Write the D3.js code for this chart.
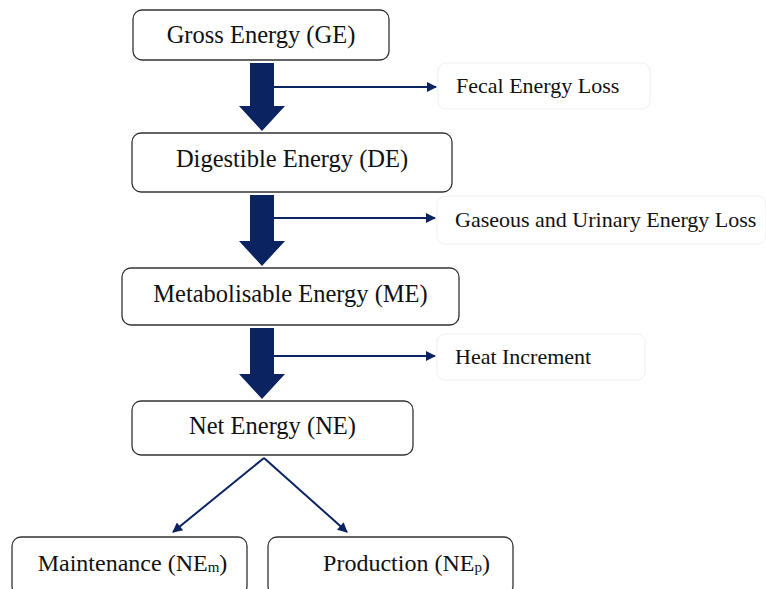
<!DOCTYPE html>
<html>
<head>
<meta charset="utf-8">
<script src="https://cdn.jsdelivr.net/npm/d3@7"></script>
<style>
  body { margin: 0; background: #fff; }
  text { font-family: "Liberation Serif", "Times New Roman", serif; fill: #111; }
</style>
</head>
<body>
<svg id="chart" width="766" height="589"></svg>
<script>
// labels of the flow
const stages = ['Gross Energy (GE)', 'Digestible Energy (DE)', 'Metabolisable Energy (ME)', 'Net Energy (NE)'];
const losses = ['Fecal Energy Loss', 'Gaseous and Urinary Energy Loss', 'Heat Increment'];
const outputs = [['Maintenance (NE', 'm', ')'], ['Production (NE', 'p', ')']];

const navy = '#0b2461';
const svg = d3.select('#chart');

// box layout (x0, x1, y0, y1)
const stageBoxes = [[133, 389, 10, 60], [132, 452, 133, 192], [122, 459, 268, 325], [132, 413, 401, 455]];
const lossBoxes = [[438, 650, 63, 109], [437, 766, 196, 244], [437, 645, 334, 380]];
const outBoxes = [[12, 247, 537, 595], [268, 513, 537, 595]];
const baselineShift = [8, 4, 5, 6];
const outTextShift = [3, 16];

const defs = svg.append('defs');
defs.append('marker').attr('id', 'head')
  .attr('viewBox', '0 0 10 10').attr('refX', 9).attr('refY', 5)
  .attr('markerWidth', 6).attr('markerHeight', 5).attr('orient', 'auto')
  .attr('markerUnits', 'strokeWidth')
  .append('path').attr('d', 'M0,0 L10,5 L0,10 z').attr('fill', navy);

// stage boxes
svg.selectAll('.stage').data(stages).enter().append('g').attr('class', 'stage')
  .each(function (d, i) {
    const b = stageBoxes[i], g = d3.select(this);
    g.append('rect').attr('x', b[0]).attr('y', b[2]).attr('width', b[1] - b[0]).attr('height', b[3] - b[2])
      .attr('rx', 9).attr('fill', '#fff').attr('stroke', '#333').attr('stroke-width', 1.3);
    g.append('text').attr('x', (b[0] + b[1]) / 2).attr('y', (b[2] + b[3]) / 2 + baselineShift[i])
      .attr('text-anchor', 'middle').attr('font-size', 24.5).text(d);
  });

// loss boxes
svg.selectAll('.loss').data(losses).enter().append('g').attr('class', 'loss')
  .each(function (d, i) {
    const b = lossBoxes[i], g = d3.select(this);
    g.append('rect').attr('x', b[0]).attr('y', b[2]).attr('width', b[1] - b[0]).attr('height', b[3] - b[2])
      .attr('rx', 8).attr('fill', '#fff').attr('stroke', '#f0f0f0').attr('stroke-width', 1);
    g.append('text').attr('x', b[0] + 18).attr('y', (b[2] + b[3]) / 2 + 7)
      .attr('font-size', 22).text(d);
  });

// output boxes
svg.selectAll('.out').data(outputs).enter().append('g').attr('class', 'out')
  .each(function (d, i) {
    const b = outBoxes[i], g = d3.select(this);
    g.append('rect').attr('x', b[0]).attr('y', b[2]).attr('width', b[1] - b[0]).attr('height', b[3] - b[2])
      .attr('rx', 9).attr('fill', '#fff').attr('stroke', '#333').attr('stroke-width', 1.3);
    const t = g.append('text').attr('x', (b[0] + b[1]) / 2 + outTextShift[i]).attr('y', 571)
      .attr('text-anchor', 'middle').attr('font-size', 24);
    t.append('tspan').text(d[0]);
    t.append('tspan').attr('font-size', 15).attr('dy', 1).text(d[1]);
    t.append('tspan').attr('dy', -1).text(d[2]);
  });

// thick down arrows between stages, with the thin loss arrow out of each
const cx = 262;
const lossY = [87, 218, 356];
losses.forEach((l, i) => {
  const top = stageBoxes[i][3] + 3, tip = stageBoxes[i + 1][2] - 2;
  const neck = tip - 25;
  svg.append('path')
    .attr('d', `M${cx - 12},${top} L${cx + 12},${top} L${cx + 12},${neck} L${cx + 23},${neck} L${cx},${tip} L${cx - 23},${neck} L${cx - 12},${neck} Z`)
    .attr('fill', navy);
  svg.append('line').attr('x1', cx + 12).attr('x2', lossBoxes[i][0] - 2)
    .attr('y1', lossY[i]).attr('y2', lossY[i])
    .attr('stroke', navy).attr('stroke-width', 2).attr('marker-end', 'url(#head)');
});

// split arrows from NE
const ne = stageBoxes[3];
[[173, 532], [347, 532]].forEach(p => {
  svg.append('line').attr('x1', 264).attr('y1', ne[3] + 3).attr('x2', p[0]).attr('y2', p[1])
    .attr('stroke', navy).attr('stroke-width', 2).attr('marker-end', 'url(#head)');
});
</script>
</body>
</html>
